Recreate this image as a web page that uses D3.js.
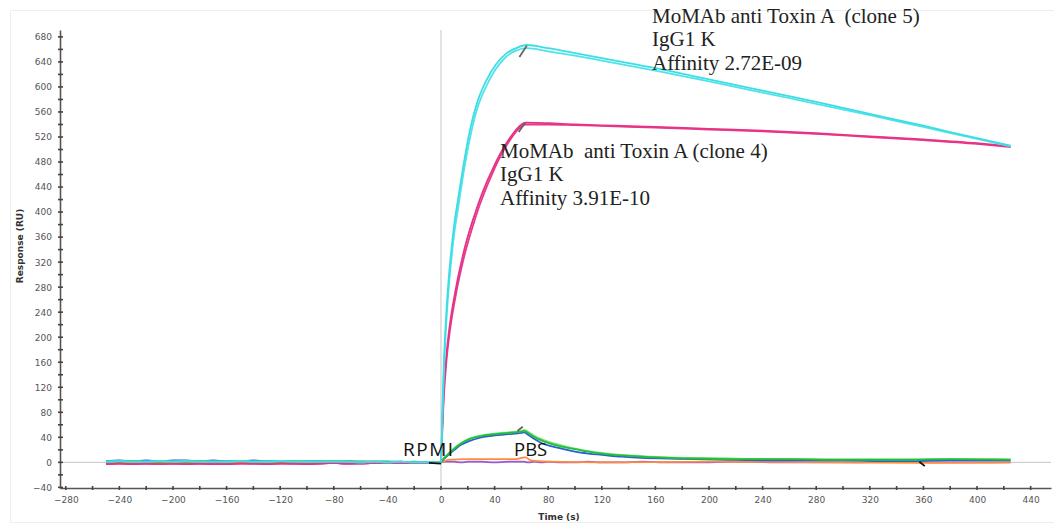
<!DOCTYPE html>
<meta charset="utf-8">
<style>
  body { margin: 0; background: #fff; }
  text { font-family: "DejaVu Sans", Verdana, sans-serif; }
</style>
<body>
<script src="https://d3js.org/d3.v7.min.js"></script>
<script>

var width = 1054,
    height = 524;

// baseline before injection (every 10 s)
var baseTime = [-250,-240,-230,-220,-210,-200,-190,-180,-170,-160,-150,-140,-130,-120,-110,-100,-90,-80,-70,-60,-50,-40,-30,-20,-10,0];
var baseBlue   = [2,3,2,3,2,3,3,2,3,2,2,3,2,2,1,2,2,1,2,1,1,1,1,0,0,0];
var baseGreen  = [1,1,2,1,1,2,1,2,1,1,2,1,1,1,2,1,1,2,1,1,1,1,0,1,0,0];
var basePink   = [-3,-2,-3,-2,-3,-2,-3,-2,-3,-3,-2,-2,-3,-2,-2,-3,-2,-1,-2,-2,-1,-1,-1,-1,-1,0];
var baseCyan   = [1,2,1,1,2,1,2,1,1,1,2,1,1,2,1,1,1,1,1,0,1,0,1,0,0,0];
var baseOrange = [-1,-1,0,-1,-1,0,-1,0,-1,-1,0,-1,0,-1,0,-1,0,0,-1,0,0,0,0,0,0,0];
var basePurple = [-2,-1,-2,-2,-1,-2,-1,-2,-2,-1,-1,-2,-1,-1,-2,-1,-1,-1,-2,-1,-1,-1,0,-1,-1,0];

// clone 5 (cyan), two traces
var cyanTime = [0,1,2,4,6,8,10,12.7,16,21.6,27,34,41,49,56,64,80,100,130,160,200,240,280,320,360,400,425];
var cyanA = [0,80,150,240,300,345,382,420,465,531,575,611,636,654,662,667,662,654,642,630,612,594,576,557,538,518,506];
var cyanB = [0,70,135,225,285,330,368,405,452,518,565,602,629,649,658,662,657,650,638,626,609,591,573,555,536,517,505];

// clone 4 (pink), two traces
var pinkTime = [0,1,2,4,6,8,10,12,15,18,21,25,29,34,38,42,46,50,54,58,63,80,100,130,160,200,240,280,320,360,400,425];
var pinkA = [0,60,110,170,210,240,265,288,318,345,368,395,420,447,466,484,500,514,526,536,543,542,540,538,536,533,530,526,521,516,510,505];
var pinkB = [0,50,100,160,200,230,255,278,308,335,358,386,412,440,460,479,496,510,523,533,540,540,539,537,535,532,529,525,520,515,509,504];

// controls
var ctrlTime = [0,2,5,10,15,20,30,40,50,60,62,65,70,75,80,90,100,110,120,135,150,170,190,220,260,300,340,380,425];
var ctrlGreen = [0,6,12,22,30,36,42,45,47,49,50,47,40,35,31,25,21,17,14,11,9,7,6,5,5,4,4,5,4];
var ctrlBlue  = [0,5,11,20,28,33,40,43,45,47,48,44,37,31,27,22,17,14,12,9,7,6,5,4,3,3,2,3,3];
var ctrlLight = [0,6,13,23,31,37,43,46,48,50,52,49,42,37,33,27,22,18,15,12,10,8,7,6,5,5,5,5,5];
var ctrlPurple= [0,1,1,1,0,1,1,0,1,1,1,0,1,0,1,0,0,1,0,0,1,0,0,1,0,0,1,0,0];

var orangeTime = [0,5,20,40,55,60,63,67,80,120,200,300,360,425];
var orangeVal  = [0,4,5,5,5,7,8,3,1,0,1,0,-1,0];

// small injection-end marks
var markT0 = [58.5, 58, 57, -9, 357];
var markV0 = [648, 528, 50, -1, 1];
var markT1 = [64, 63, 61, 0, 361];
var markV1 = [666, 543, 57, -2, -6];
var markColor = ["#666", "#666", "#666", "#111", "#111"];

var xTicks = d3.range(-280, 441, 40);
var yTicks = d3.range(-40, 681, 40);

var svg = d3.select("body").append("svg")
    .attr("width", width)
    .attr("height", height);

var x = d3.scaleLinear().domain([-284.3, 455.2]).range([60, 1051]);
var y = d3.scaleLinear().domain([-41, 691]).range([488, 30]);

// faint frame
svg.append("rect")
    .attr("x", 10.5).attr("y", 10.5)
    .attr("width", 1060).attr("height", 512)
    .attr("fill", "none").attr("stroke", "#eee");

// zero lines
svg.append("line")
    .attr("x1", 60).attr("x2", 1051)
    .attr("y1", y(0)).attr("y2", y(0))
    .attr("stroke", "#cfcfcf").attr("stroke-width", 1.2);
svg.append("line")
    .attr("x1", x(0)).attr("x2", x(0))
    .attr("y1", 30).attr("y2", 488)
    .attr("stroke", "#cfcfcf").attr("stroke-width", 1.2);

// axes
var xAxis = d3.axisBottom(x).tickValues(xTicks).tickSize(0).tickPadding(9);
var yAxis = d3.axisLeft(y).tickValues(yTicks).tickSize(0).tickPadding(8);

var gx = svg.append("g").attr("transform", "translate(0,488)").call(xAxis);
var gy = svg.append("g").attr("transform", "translate(60,0)").call(yAxis);
[gx, gy].forEach(function(g) {
  g.select(".domain").attr("stroke", "#555").attr("stroke-width", 1.6);
  g.selectAll("text").attr("fill", "#555").style("font-size", "9px");
});

// tick marks (major + minor every 20)
svg.append("g").selectAll("line")
    .data(d3.range(-280, 441, 20))
  .enter().append("line")
    .attr("x1", d => x(d)).attr("x2", d => x(d))
    .attr("y1", 486).attr("y2", 490)
    .attr("stroke", "#444").attr("stroke-width", 1.6);
svg.append("g").selectAll("line")
    .data(d3.range(-40, 681, 20))
  .enter().append("line")
    .attr("x1", 58).attr("x2", 63)
    .attr("y1", d => y(d)).attr("y2", d => y(d))
    .attr("stroke", "#444").attr("stroke-width", 1.6);

svg.append("text")
    .attr("x", 559).attr("y", 520)
    .attr("text-anchor", "middle")
    .style("font-size", "9px").style("font-weight", "bold")
    .attr("fill", "#333")
    .text("Time (s)");
svg.append("text")
    .attr("transform", "translate(23,246) rotate(-90)")
    .attr("text-anchor", "middle")
    .style("font-size", "9px").style("font-weight", "bold")
    .attr("fill", "#333")
    .text("Response (RU)");

var line = d3.line()
    .x(d => x(d[0]))
    .y(d => y(d[1]))
    .curve(d3.curveMonotoneX);

function zipT(ts, vs) { return ts.map((t, i) => [t, vs[i]]); }

var series = [
  {color: "#9b59d0", pts: zipT(baseTime, basePurple).concat(zipT(ctrlTime, ctrlPurple).slice(1))},
  {color: "#ff8a3d", pts: zipT(baseTime, baseOrange).concat(zipT(orangeTime, orangeVal).slice(1))},
  {color: "#2a5fd6", pts: zipT(baseTime, baseBlue).concat(zipT(ctrlTime, ctrlBlue).slice(1))},
  {color: "#7de07d", pts: zipT(baseTime, baseGreen).concat(zipT(ctrlTime, ctrlLight).slice(1))},
  {color: "#1fbf3a", pts: zipT(baseTime, baseGreen).concat(zipT(ctrlTime, ctrlGreen).slice(1))},
  {color: "#e8388f", pts: zipT(baseTime, basePink).concat(zipT(pinkTime, pinkB).slice(1))},
  {color: "#e63384", pts: zipT(baseTime, basePink).concat(zipT(pinkTime, pinkA).slice(1))},
  {color: "#4fe3ea", pts: zipT(baseTime, baseCyan).concat(zipT(cyanTime, cyanB).slice(1))},
  {color: "#3ddde6", pts: zipT(baseTime, baseCyan).concat(zipT(cyanTime, cyanA).slice(1))}
];

svg.append("g").selectAll("path")
    .data(series)
  .enter().append("path")
    .attr("d", d => line(d.pts))
    .attr("fill", "none")
    .attr("stroke", d => d.color)
    .attr("stroke-width", 1.8);

svg.append("g").selectAll("line")
    .data(markT0.map((t, i) => i))
  .enter().append("line")
    .attr("x1", i => x(markT0[i])).attr("y1", i => y(markV0[i]))
    .attr("x2", i => x(markT1[i])).attr("y2", i => y(markV1[i]))
    .attr("stroke", i => markColor[i]).attr("stroke-width", 1.8);

// annotations
function block(x0, y0, lines) {
  var t = svg.append("text")
      .attr("x", x0).attr("y", y0)
      .style("font-family", "'Liberation Serif', 'Times New Roman', serif")
      .style("font-size", "21px")
      .attr("fill", "#222")
      .attr("xml:space", "preserve");
  lines.forEach(function(s, i) {
    t.append("tspan").attr("x", x0).attr("dy", i ? 23.3 : 0).text(s);
  });
}
block(500, 158, ["MoMAb  anti Toxin A (clone 4)", "IgG1 K", "Affinity 3.91E-10"]);
block(652, 23, ["MoMAb anti Toxin A  (clone 5)", "IgG1 K", "Affinity 2.72E-09"]);

svg.append("text")
    .attr("x", 403).attr("y", 456)
    .style("font-family", "'Open Sans', sans-serif")
    .style("font-size", "19px")
    .style("letter-spacing", "1.5px")
    .attr("fill", "#111")
    .text("RPMI");
svg.append("text")
    .attr("x", 514).attr("y", 456)
    .style("font-family", "'Open Sans', sans-serif")
    .style("font-size", "18.5px")
    .attr("fill", "#111")
    .text("PBS");

</script>
